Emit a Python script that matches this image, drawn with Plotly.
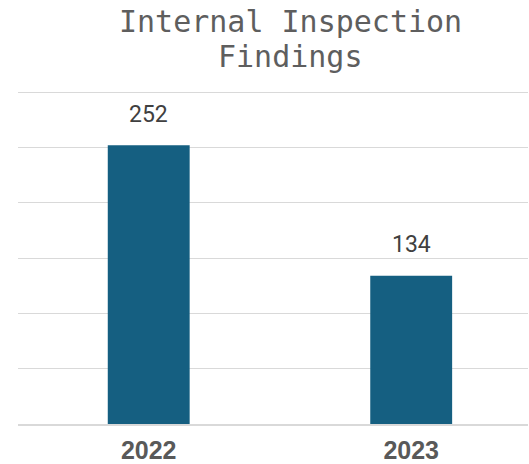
import plotly.graph_objects as go

categories = ["2022", "2023"]
findings = [252, 134]
title_lines = ["Internal Inspection", "Findings"]

BAR_COLOR = "#155f81"
GRID = "#d9d9d9"

fig = go.Figure()
fig.add_trace(go.Bar(
    x=categories,
    y=findings,
    width=[0.312] * len(categories),
    marker=dict(color=BAR_COLOR, line=dict(width=0)),
    hoverinfo="skip",
))

annotations = []
for i, v in enumerate(findings):
    annotations.append(dict(
        x=i, y=v, xref="x", yref="y", text=str(v), showarrow=False,
        xanchor="center", yanchor="middle", yshift=31,
        font=dict(family="Roboto, Arial, sans-serif", size=23, color="#404040"),
    ))

title_y = [1.2078, 1.1024]
for t, yy in zip(title_lines, title_y):
    annotations.append(dict(
        x=0.535, y=yy, xref="paper", yref="paper", text=t, showarrow=False,
        xanchor="center", yanchor="middle",
        font=dict(family="DejaVu Sans Mono, monospace", size=30, color="#5e5e5e"),
    ))

fig.update_layout(
    width=529, height=464,
    margin=dict(l=18, r=1, t=91, b=40, autoexpand=False),
    paper_bgcolor="white", plot_bgcolor="white",
    showlegend=False,
    annotations=annotations,
    xaxis=dict(
        type="category", range=[-0.498, 1.445],
        showgrid=False, zeroline=False, automargin=False,
        showline=True, linecolor=GRID, linewidth=2,
        ticks="", ticklabelstandoff=3,
        tickfont=dict(family="Liberation Sans, Arial, sans-serif", size=25, color="#595959", weight="bold"),
    ),
    yaxis=dict(
        range=[0, 301], dtick=50, tick0=0, automargin=False,
        showgrid=True, gridcolor=GRID, gridwidth=1,
        zeroline=False, showticklabels=False, ticks="",
    ),
)

fig.write_html(
    "out.html",
    config={"displayModeBar": False},
    post_script="document.body.style.margin='0';document.body.style.padding='0';",
)
